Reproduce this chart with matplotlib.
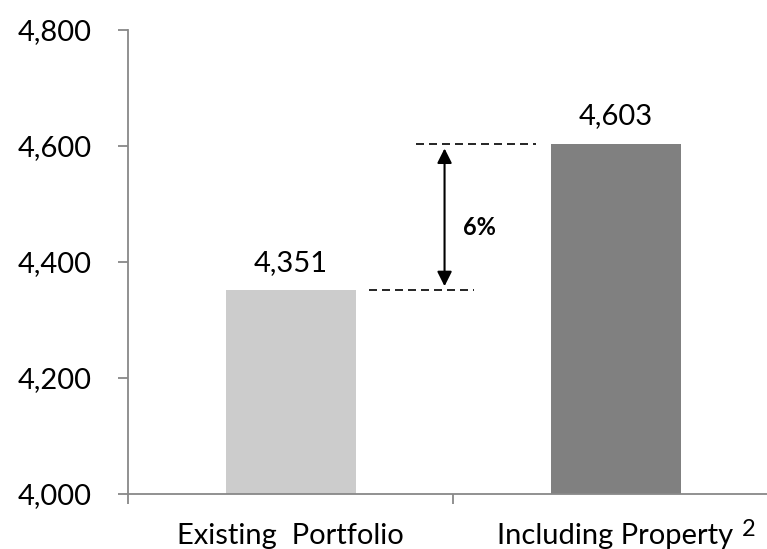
import matplotlib
matplotlib.use("Agg")
import matplotlib.pyplot as plt
from matplotlib.ticker import FuncFormatter, MultipleLocator

plt.rcParams['font.family'] = ['Lato', 'DejaVu Sans']

categories = ["Existing  Portfolio", "Including Property"]
values = [4351, 4603]
bar_colors = ["#cccccc", "#808080"]
change_label = "6%"
footnote_mark = "2"

fig = plt.figure(figsize=(7.67, 5.49), dpi=100)
ax = fig.add_axes([128 / 767, 55 / 549, 650 / 767, 464 / 549])

x = range(len(categories))
ax.bar(x, values, width=0.4, color=bar_colors, zorder=2)
ax.set_xlim(-0.5, 1.5)
ax.set_ylim(4000, 4800)

axis_gray = "#888888"
for side in ("top", "right"):
    ax.spines[side].set_visible(False)
for side in ("left", "bottom"):
    ax.spines[side].set_color(axis_gray)
    ax.spines[side].set_linewidth(1.3)

ax.yaxis.set_major_locator(MultipleLocator(200))
ax.yaxis.set_major_formatter(FuncFormatter(lambda v, p: f"{v:,.0f}"))
ax.tick_params(axis="y", length=7, width=1.3, color=axis_gray, pad=19,
               labelsize=21, labelcolor="black")
ax.set_xticks([-0.5, 0.5, 1.5])
ax.set_xticklabels([])
ax.tick_params(axis="x", length=7, width=1.3, color=axis_gray)

# category labels under each bar
for i, name in enumerate(categories):
    ax.annotate(name, xy=(i, 4000), xytext=(0, -21), textcoords="offset points",
                ha="center", va="top", fontsize=21, color="black",
                annotation_clip=False)
# footnote marker after the second category label
ax.annotate(footnote_mark, xy=(1, 4000), xytext=(91, -18), textcoords="offset points",
            ha="left", va="top", fontsize=17, color="black", annotation_clip=False)

# value labels above the bars
for i, v in enumerate(values):
    ax.annotate(f"{v:,}", xy=(i, v), xytext=(0, 20), textcoords="offset points",
                ha="center", va="center", fontsize=21, color="black")

# dashed guide lines at both bar heights
dash = dict(color="black", lw=1.2, linestyle=(0, (4.8, 3.0)), zorder=3)
ax.plot([0.385, 0.754], [values[1], values[1]], **dash)
ax.plot([0.240, 0.566], [values[0], values[0]], **dash)

# double-headed arrow showing the change
ax.annotate("", xy=(0.474, values[1]), xytext=(0.474, values[0]),
            arrowprops=dict(arrowstyle="<|-|>", color="black", lw=1.5,
                            mutation_scale=22, shrinkA=3, shrinkB=3))
ax.annotate(change_label, xy=(0.474, (values[0] + values[1]) / 2),
            xytext=(25, -7), textcoords="offset points",
            ha="center", va="center", fontsize=17, fontweight="bold")

fig.savefig("out.png", dpi=100)
